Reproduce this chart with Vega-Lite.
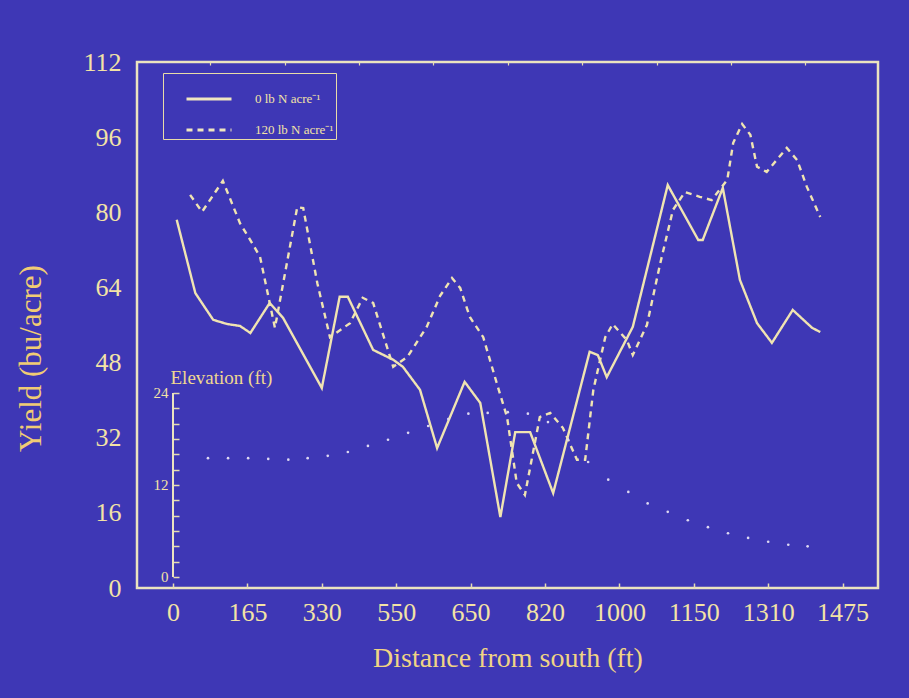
{
  "$schema": "https://vega.github.io/schema/vega-lite/v6.json",
  "autosize": "none",
  "width": 741,
  "height": 526,
  "padding": {"left": 137, "top": 62, "right": 31, "bottom": 110},
  "background": "#3e37b5",
  "config": {
    "view": {"stroke": "#ebe3c0", "strokeWidth": 2.5},
    "font": "Liberation Serif"
  },
  "datasets": {
    "yield": [
      {"pos": 0.05, "yield": 78.4, "treatment": "0 lb N acre⁻¹"},
      {"pos": 0.30, "yield": 62.8, "treatment": "0 lb N acre⁻¹"},
      {"pos": 0.54, "yield": 57.1, "treatment": "0 lb N acre⁻¹"},
      {"pos": 0.73, "yield": 56.2, "treatment": "0 lb N acre⁻¹"},
      {"pos": 0.90, "yield": 55.8, "treatment": "0 lb N acre⁻¹"},
      {"pos": 1.04, "yield": 54.3, "treatment": "0 lb N acre⁻¹"},
      {"pos": 1.30, "yield": 60.7, "treatment": "0 lb N acre⁻¹"},
      {"pos": 1.48, "yield": 57.5, "treatment": "0 lb N acre⁻¹"},
      {"pos": 2.00, "yield": 42.6, "treatment": "0 lb N acre⁻¹"},
      {"pos": 2.24, "yield": 62.0, "treatment": "0 lb N acre⁻¹"},
      {"pos": 2.35, "yield": 62.0, "treatment": "0 lb N acre⁻¹"},
      {"pos": 2.69, "yield": 50.7, "treatment": "0 lb N acre⁻¹"},
      {"pos": 2.96, "yield": 48.6, "treatment": "0 lb N acre⁻¹"},
      {"pos": 3.09, "yield": 47.1, "treatment": "0 lb N acre⁻¹"},
      {"pos": 3.32, "yield": 42.2, "treatment": "0 lb N acre⁻¹"},
      {"pos": 3.55, "yield": 29.8, "treatment": "0 lb N acre⁻¹"},
      {"pos": 3.92, "yield": 43.9, "treatment": "0 lb N acre⁻¹"},
      {"pos": 4.13, "yield": 39.4, "treatment": "0 lb N acre⁻¹"},
      {"pos": 4.40, "yield": 15.1, "treatment": "0 lb N acre⁻¹"},
      {"pos": 4.60, "yield": 33.2, "treatment": "0 lb N acre⁻¹"},
      {"pos": 4.80, "yield": 33.2, "treatment": "0 lb N acre⁻¹"},
      {"pos": 5.11, "yield": 20.2, "treatment": "0 lb N acre⁻¹"},
      {"pos": 5.60, "yield": 50.3, "treatment": "0 lb N acre⁻¹"},
      {"pos": 5.71, "yield": 49.6, "treatment": "0 lb N acre⁻¹"},
      {"pos": 5.83, "yield": 44.9, "treatment": "0 lb N acre⁻¹"},
      {"pos": 6.18, "yield": 55.6, "treatment": "0 lb N acre⁻¹"},
      {"pos": 6.65, "yield": 85.8, "treatment": "0 lb N acre⁻¹"},
      {"pos": 7.06, "yield": 74.1, "treatment": "0 lb N acre⁻¹"},
      {"pos": 7.12, "yield": 74.1, "treatment": "0 lb N acre⁻¹"},
      {"pos": 7.39, "yield": 85.2, "treatment": "0 lb N acre⁻¹"},
      {"pos": 7.62, "yield": 65.6, "treatment": "0 lb N acre⁻¹"},
      {"pos": 7.85, "yield": 56.4, "treatment": "0 lb N acre⁻¹"},
      {"pos": 8.05, "yield": 52.2, "treatment": "0 lb N acre⁻¹"},
      {"pos": 8.33, "yield": 59.2, "treatment": "0 lb N acre⁻¹"},
      {"pos": 8.59, "yield": 55.4, "treatment": "0 lb N acre⁻¹"},
      {"pos": 8.70, "yield": 54.5, "treatment": "0 lb N acre⁻¹"},
      {"pos": 0.23, "yield": 83.7, "treatment": "120 lb N acre⁻¹"},
      {"pos": 0.39, "yield": 80.1, "treatment": "120 lb N acre⁻¹"},
      {"pos": 0.67, "yield": 86.7, "treatment": "120 lb N acre⁻¹"},
      {"pos": 0.90, "yield": 77.7, "treatment": "120 lb N acre⁻¹"},
      {"pos": 1.08, "yield": 73.0, "treatment": "120 lb N acre⁻¹"},
      {"pos": 1.17, "yield": 70.5, "treatment": "120 lb N acre⁻¹"},
      {"pos": 1.37, "yield": 55.4, "treatment": "120 lb N acre⁻¹"},
      {"pos": 1.67, "yield": 81.1, "treatment": "120 lb N acre⁻¹"},
      {"pos": 1.75, "yield": 80.9, "treatment": "120 lb N acre⁻¹"},
      {"pos": 1.94, "yield": 64.9, "treatment": "120 lb N acre⁻¹"},
      {"pos": 2.11, "yield": 53.4, "treatment": "120 lb N acre⁻¹"},
      {"pos": 2.38, "yield": 56.4, "treatment": "120 lb N acre⁻¹"},
      {"pos": 2.55, "yield": 61.8, "treatment": "120 lb N acre⁻¹"},
      {"pos": 2.69, "yield": 60.7, "treatment": "120 lb N acre⁻¹"},
      {"pos": 2.96, "yield": 47.1, "treatment": "120 lb N acre⁻¹"},
      {"pos": 3.15, "yield": 49.2, "treatment": "120 lb N acre⁻¹"},
      {"pos": 3.41, "yield": 55.6, "treatment": "120 lb N acre⁻¹"},
      {"pos": 3.59, "yield": 62.2, "treatment": "120 lb N acre⁻¹"},
      {"pos": 3.75, "yield": 66.0, "treatment": "120 lb N acre⁻¹"},
      {"pos": 3.86, "yield": 63.9, "treatment": "120 lb N acre⁻¹"},
      {"pos": 3.99, "yield": 57.7, "treatment": "120 lb N acre⁻¹"},
      {"pos": 4.17, "yield": 53.4, "treatment": "120 lb N acre⁻¹"},
      {"pos": 4.35, "yield": 43.7, "treatment": "120 lb N acre⁻¹"},
      {"pos": 4.49, "yield": 36.4, "treatment": "120 lb N acre⁻¹"},
      {"pos": 4.62, "yield": 22.4, "treatment": "120 lb N acre⁻¹"},
      {"pos": 4.73, "yield": 19.8, "treatment": "120 lb N acre⁻¹"},
      {"pos": 4.93, "yield": 36.4, "treatment": "120 lb N acre⁻¹"},
      {"pos": 5.07, "yield": 37.3, "treatment": "120 lb N acre⁻¹"},
      {"pos": 5.24, "yield": 34.1, "treatment": "120 lb N acre⁻¹"},
      {"pos": 5.43, "yield": 27.3, "treatment": "120 lb N acre⁻¹"},
      {"pos": 5.54, "yield": 27.3, "treatment": "120 lb N acre⁻¹"},
      {"pos": 5.65, "yield": 42.2, "treatment": "120 lb N acre⁻¹"},
      {"pos": 5.81, "yield": 53.4, "treatment": "120 lb N acre⁻¹"},
      {"pos": 5.91, "yield": 56.2, "treatment": "120 lb N acre⁻¹"},
      {"pos": 6.10, "yield": 52.8, "treatment": "120 lb N acre⁻¹"},
      {"pos": 6.18, "yield": 49.6, "treatment": "120 lb N acre⁻¹"},
      {"pos": 6.37, "yield": 56.0, "treatment": "120 lb N acre⁻¹"},
      {"pos": 6.55, "yield": 69.2, "treatment": "120 lb N acre⁻¹"},
      {"pos": 6.72, "yield": 80.5, "treatment": "120 lb N acre⁻¹"},
      {"pos": 6.88, "yield": 84.3, "treatment": "120 lb N acre⁻¹"},
      {"pos": 7.08, "yield": 83.3, "treatment": "120 lb N acre⁻¹"},
      {"pos": 7.24, "yield": 82.6, "treatment": "120 lb N acre⁻¹"},
      {"pos": 7.45, "yield": 86.9, "treatment": "120 lb N acre⁻¹"},
      {"pos": 7.53, "yield": 94.8, "treatment": "120 lb N acre⁻¹"},
      {"pos": 7.65, "yield": 98.8, "treatment": "120 lb N acre⁻¹"},
      {"pos": 7.76, "yield": 96.5, "treatment": "120 lb N acre⁻¹"},
      {"pos": 7.85, "yield": 89.7, "treatment": "120 lb N acre⁻¹"},
      {"pos": 7.98, "yield": 88.6, "treatment": "120 lb N acre⁻¹"},
      {"pos": 8.25, "yield": 93.7, "treatment": "120 lb N acre⁻¹"},
      {"pos": 8.39, "yield": 91.1, "treatment": "120 lb N acre⁻¹"},
      {"pos": 8.52, "yield": 85.4, "treatment": "120 lb N acre⁻¹"},
      {"pos": 8.70, "yield": 79.0, "treatment": "120 lb N acre⁻¹"}
    ],
    "elevation": [
      {"pos": 0.47, "elev": 15.5},
      {"pos": 0.74, "elev": 15.5},
      {"pos": 1.01, "elev": 15.5},
      {"pos": 1.28, "elev": 15.4},
      {"pos": 1.55, "elev": 15.3},
      {"pos": 1.81, "elev": 15.5},
      {"pos": 2.08, "elev": 15.8},
      {"pos": 2.35, "elev": 16.3},
      {"pos": 2.62, "elev": 17.1},
      {"pos": 2.89, "elev": 17.9},
      {"pos": 3.16, "elev": 18.8},
      {"pos": 3.43, "elev": 19.7},
      {"pos": 3.70, "elev": 20.6},
      {"pos": 3.97, "elev": 21.3},
      {"pos": 4.23, "elev": 21.4},
      {"pos": 4.50, "elev": 21.5},
      {"pos": 4.77, "elev": 21.3},
      {"pos": 5.04, "elev": 20.2},
      {"pos": 5.31, "elev": 17.9},
      {"pos": 5.58, "elev": 15.0},
      {"pos": 5.85, "elev": 12.7},
      {"pos": 6.12, "elev": 11.1},
      {"pos": 6.38, "elev": 9.6},
      {"pos": 6.65, "elev": 8.5},
      {"pos": 6.92, "elev": 7.4},
      {"pos": 7.19, "elev": 6.5},
      {"pos": 7.46, "elev": 5.7},
      {"pos": 7.73, "elev": 5.1},
      {"pos": 8.00, "elev": 4.6},
      {"pos": 8.27, "elev": 4.2},
      {"pos": 8.53, "elev": 4.0}
    ],
    "elevAxis": [
      {"pos": 0, "low": 0, "high": 24}
    ]
  },
  "layer": [
    {
      "data": {"name": "yield"},
      "mark": {"type": "line", "color": "#f0e4b2", "strokeWidth": 2.4},
      "encoding": {
        "x": {
          "field": "pos",
          "type": "quantitative",
          "scale": {"domain": [-0.484, 9.476], "nice": false, "zero": false},
          "axis": {
            "values": [0, 1, 2, 3, 4, 5, 6, 7, 8, 9],
            "labelExpr": "['0','165','330','550','650','820','1000','1150','1310','1475'][round(datum.value)]",
            "title": "Distance from south (ft)",
            "grid": false,
            "domain": false,
            "tickSize": -5,
            "tickColor": "#e6dcb0",
            "tickWidth": 1.5,
            "labelFont": "Liberation Serif",
            "labelFontSize": 26,
            "labelColor": "#f3e3a6",
            "labelPadding": 16,
            "titleFont": "Liberation Serif",
            "titleFontSize": 28,
            "titleFontWeight": "normal",
            "titleColor": "#f0d484",
            "titlePadding": 19
          }
        },
        "y": {
          "field": "yield",
          "type": "quantitative",
          "scale": {"domain": [0, 112], "nice": false, "zero": true},
          "axis": {
            "orient": "left",
            "values": [0, 16, 32, 48, 64, 80, 96, 112],
            "title": "Yield (bu/acre)",
            "grid": false,
            "domain": false,
            "ticks": false,
            "labelFont": "Liberation Serif",
            "labelFontSize": 26,
            "labelColor": "#f3e3a6",
            "labelPadding": 16,
            "titleFont": "Liberation Serif",
            "titleFontSize": 31,
            "titleFontWeight": "normal",
            "titleColor": "#f0cc74",
            "titlePadding": 35,
            "titleY": 296
          }
        },
        "strokeDash": {
          "field": "treatment",
          "type": "nominal",
          "scale": {
            "domain": ["0 lb N acre⁻¹", "120 lb N acre⁻¹"],
            "range": [[1, 0], [6, 5]]
          },
          "legend": {
            "orient": "none",
            "legendX": 26,
            "legendY": 11,
            "title": null,
            "symbolType": "stroke",
            "symbolSize": 2025,
            "symbolStrokeWidth": 3,
            "symbolStrokeColor": "#efe6c0",
            "symbolOffset": 20,
            "labelFont": "Liberation Serif",
            "labelFontSize": 13,
            "labelColor": "#f3e3a6",
            "labelOffset": 22,
            "strokeColor": "#e8dca8",
            "padding": 2,
            "rowPadding": -1
          }
        }
      }
    },
    {
      "layer": [
        {
          "data": {"name": "elevation"},
          "mark": {"type": "point", "filled": true, "size": 7, "color": "#ddd8f2", "opacity": 1},
          "encoding": {
            "x": {
              "field": "pos",
              "type": "quantitative",
              "axis": {
                "values": [-0.5, 0.5, 1.5, 2.5, 3.5, 4.5, 5.5, 6.5, 7.5, 8.5, 9.5],
                "labels": false,
                "title": null,
                "grid": false,
                "domain": false,
                "tickSize": -3,
                "tickColor": "#e6dcb0",
                "tickWidth": 1.2
              }
            },
            "y": {
              "field": "elev",
              "type": "quantitative",
              "scale": {"domain": [-1.435, 67.17], "nice": false, "zero": false},
              "axis": {
                "orient": "left",
                "offset": -36,
                "values": [0, 2, 4, 6, 8, 10, 12, 14, 16, 18, 20, 22, 24],
                "labelExpr": "datum.value % 12 == 0 ? datum.label : ''",
                "grid": false,
                "domain": false,
                "tickSize": -6,
                "tickColor": "#e6dcb0",
                "tickWidth": 1.5,
                "labelFont": "Liberation Serif",
                "labelFontSize": 15,
                "labelColor": "#f3e3a6",
                "labelPadding": 11,
                "title": "Elevation (ft)",
                "titleAngle": 0,
                "titleAlign": "left",
                "titleBaseline": "middle",
                "titleX": -3,
                "titleY": 315,
                "titleFont": "Liberation Serif",
                "titleFontSize": 19,
                "titleFontWeight": "normal",
                "titleColor": "#f0d890"
              }
            }
          }
        },
        {
          "data": {"name": "elevAxis"},
          "mark": {"type": "rule", "color": "#ebe3c0", "strokeWidth": 2},
          "encoding": {
            "x": {
              "field": "pos",
              "type": "quantitative",
              "axis": {
                "values": [-0.5, 0.5, 1.5, 2.5, 3.5, 4.5, 5.5, 6.5, 7.5, 8.5, 9.5],
                "labels": false,
                "title": null,
                "grid": false,
                "domain": false,
                "tickSize": -3,
                "tickColor": "#e6dcb0",
                "tickWidth": 1.2
              }
            },
            "y": {
              "field": "low",
              "type": "quantitative",
              "axis": {
                "orient": "left",
                "offset": -36,
                "values": [0, 2, 4, 6, 8, 10, 12, 14, 16, 18, 20, 22, 24],
                "labelExpr": "datum.value % 12 == 0 ? datum.label : ''",
                "grid": false,
                "domain": false,
                "tickSize": -6,
                "tickColor": "#e6dcb0",
                "tickWidth": 1.5,
                "labelFont": "Liberation Serif",
                "labelFontSize": 15,
                "labelColor": "#f3e3a6",
                "labelPadding": 11,
                "title": "Elevation (ft)",
                "titleAngle": 0,
                "titleAlign": "left",
                "titleBaseline": "middle",
                "titleX": -3,
                "titleY": 315,
                "titleFont": "Liberation Serif",
                "titleFontSize": 19,
                "titleFontWeight": "normal",
                "titleColor": "#f0d890"
              }
            },
            "y2": {"field": "high"}
          }
        }
      ]
    }
  ],
  "resolve": {"scale": {"y": "independent"}, "axis": {"x": "independent"}}
}
